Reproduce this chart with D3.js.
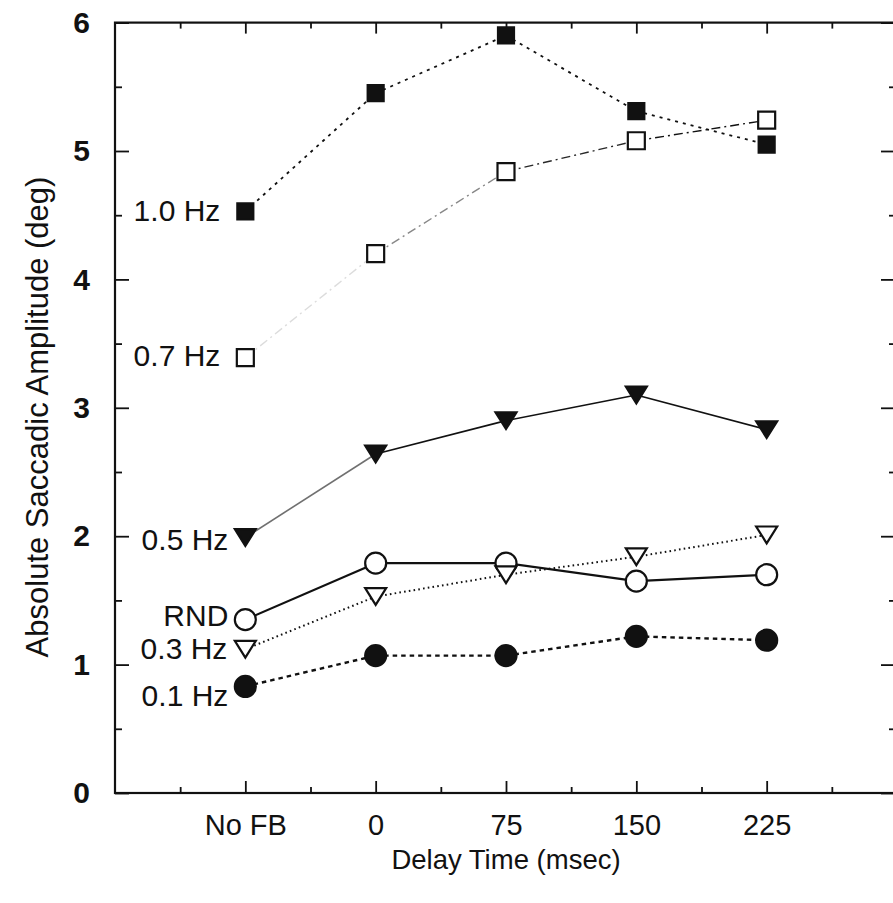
<!DOCTYPE html>
<html>
<head>
<meta charset="utf-8">
<script src="https://cdn.jsdelivr.net/npm/d3@7"></script>
<style>
  html, body { margin: 0; padding: 0; background: #fff; }
  svg text { font-family: "Liberation Sans", Arial, Helvetica, sans-serif; fill: #111; }
</style>
</head>
<body>
<svg id="chart" width="893" height="903"></svg>
<script>
// ---- data ----
const categories = ["No FB", "0", "75", "150", "225"];
const yTicks = [0, 1, 2, 3, 4, 5, 6];
const seriesNames = ["1.0 Hz", "0.7 Hz", "0.5 Hz", "RND", "0.3 Hz", "0.1 Hz"];
const hz10 = [4.53, 5.45, 5.90, 5.31, 5.05];
const hz07 = [3.39, 4.20, 4.84, 5.08, 5.24];
const hz05 = [1.99, 2.64, 2.90, 3.10, 2.83];
const rnd  = [1.35, 1.79, 1.79, 1.65, 1.70];
const hz03 = [1.12, 1.53, 1.70, 1.84, 2.01];
const hz01 = [0.83, 1.07, 1.07, 1.22, 1.19];
const xTitle = "Delay Time (msec)";
const yTitle = "Absolute Saccadic Amplitude (deg)";

// ---- styles (not data) ----
const styles = [
  { values: hz10, marker: "square", fill: "#111", size: 16, dash: "3,5", width: 1.8, segOpacity: [1,1,1,1], lab: [-25, 2] },
  { values: hz07, marker: "square", fill: "#fff", size: 17, dash: "9,4,2,4", width: 1.4, segOpacity: [0.15,0.5,0.9,1], lab: [-25, 0] },
  { values: hz05, marker: "tri", fill: "#111", size: 21, dash: null, width: 1.6, segOpacity: [0.6,1,1,1], lab: [-17, 5] },
  { values: rnd,  marker: "circle", fill: "#fff", size: 10.5, dash: null, width: 2.2, segOpacity: [1,1,1,1], lab: [-17, -2] },
  { values: hz03, marker: "tri", fill: "#fff", size: 21, dash: "1.6,3.2", width: 2, segOpacity: [1,1,1,1], lab: [-18, 2] },
  { values: hz01, marker: "circle", fill: "#111", size: 10.5, dash: "4.5,4", width: 2.4, segOpacity: [1,1,1,1], lab: [-17, 12] }
];

const svg = d3.select("#chart");
const x = d3.scaleLinear().domain([-1, 5]).range([115, 897]);
const y = d3.scaleLinear().domain([0, 6]).range([793, 22.6]);
const idx = d3.range(categories.length);
const halfSteps = d3.range(-0.5, 5, 1);

// axes (ticks inward)
const axG = svg.append("g");
const gBottom = axG.append("g").attr("transform", `translate(0,${y(0)})`)
  .call(d3.axisBottom(x).tickValues(idx).tickSize(-12).tickPadding(21).tickFormat(i => categories[i]));
axG.append("g").attr("transform", `translate(0,${y(0)})`)
  .call(d3.axisBottom(x).tickValues(halfSteps).tickSize(-6).tickFormat(""));
axG.append("g").attr("transform", `translate(0,${y(6)})`)
  .call(d3.axisTop(x).tickValues(idx).tickSize(-11).tickFormat(""));
axG.append("g").attr("transform", `translate(0,${y(6)})`)
  .call(d3.axisTop(x).tickValues(halfSteps).tickSize(-6).tickFormat(""));
const gLeft = axG.append("g").attr("transform", `translate(${x(-1)},0)`)
  .call(d3.axisLeft(y).tickValues(yTicks).tickSize(-14).tickPadding(25).tickFormat(d3.format("d")));
axG.append("g").attr("transform", `translate(${x(-1)},0)`)
  .call(d3.axisLeft(y).tickValues(d3.range(0.5, 6, 1)).tickSize(-7).tickFormat(""));
axG.append("g").attr("transform", `translate(${x(5)},0)`)
  .call(d3.axisRight(y).tickValues(yTicks).tickSize(-16).tickFormat(""));
axG.append("g").attr("transform", `translate(${x(5)},0)`)
  .call(d3.axisRight(y).tickValues(d3.range(0.5, 6, 1)).tickSize(-8).tickFormat(""));

axG.selectAll(".domain").remove();
axG.selectAll(".tick line").attr("stroke", "#111").attr("stroke-width", 1.8);
gBottom.selectAll("text").attr("font-size", 29).attr("fill", "#111");
gLeft.selectAll("text").attr("font-size", 30).attr("font-weight", "bold").attr("fill", "#111");
// full frame
axG.append("rect")
  .attr("x", x(-1)).attr("y", y(6))
  .attr("width", x(5) - x(-1)).attr("height", y(0) - y(6))
  .attr("fill", "none").attr("stroke", "#111").attr("stroke-width", 2.2);

// titles
svg.append("text").attr("x", 506).attr("y", 869)
  .attr("text-anchor", "middle").attr("font-size", 27.5).text(xTitle);
svg.append("text").attr("transform", `translate(48,417) rotate(-90)`)
  .attr("text-anchor", "middle").attr("font-size", 31).text(yTitle);

// series
const symbols = {
  square: s => `M${-s/2},${-s/2}h${s}v${s}h${-s}Z`,
  tri: s => { const h = s * 0.8; return `M${-s/2},${-h/2}L${s/2},${-h/2}L0,${h/2}Z`; },
  circle: r => `M${-r},0A${r},${r} 0 1,0 ${r},0A${r},${r} 0 1,0 ${-r},0Z`
};

const seriesG = svg.append("g");
styles.forEach((st) => {
  const g = seriesG.append("g");
  const pairs = d3.pairs(st.values.map((v, i) => [i, v]));
  g.selectAll("path.seg").data(pairs).join("path")
    .attr("class", "seg")
    .attr("d", p => d3.line().x(d => x(d[0])).y(d => y(d[1]))(p))
    .attr("fill", "none").attr("stroke", "#111")
    .attr("stroke-width", st.width)
    .attr("stroke-dasharray", st.dash)
    .attr("opacity", (p, i) => st.segOpacity[i]);
});
styles.forEach((st, k) => {
  const g = seriesG.append("g");
  g.selectAll("path.mk").data(st.values).join("path")
    .attr("class", "mk")
    .attr("transform", (v, i) => `translate(${x(i)},${y(v)})`)
    .attr("d", symbols[st.marker](st.size))
    .attr("fill", st.fill).attr("stroke", "#111").attr("stroke-width", 2.2);
  g.append("text")
    .attr("x", x(0) + st.lab[0]).attr("y", y(st.values[0]) + st.lab[1])
    .attr("text-anchor", "end").attr("dominant-baseline", "middle")
    .attr("font-size", 30).text(seriesNames[k]);
});
</script>
</body>
</html>
